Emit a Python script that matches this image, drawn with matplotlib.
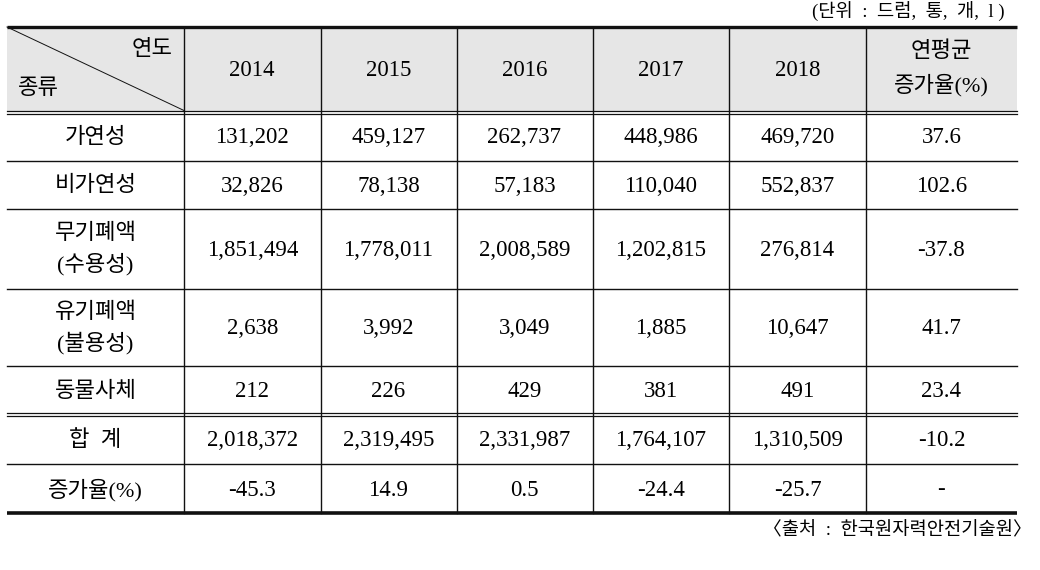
import matplotlib
matplotlib.use("Agg")
import matplotlib.pyplot as plt

plt.rcParams['font.family'] = ['Liberation Serif', 'Noto Sans CJK KR', 'DejaVu Sans']

years = ["2014", "2015", "2016", "2017", "2018"]
row_labels = ["가연성", "비가연성", "무기폐액\n(수용성)", "유기폐액\n(불용성)", "동물사체"]
combustible = [131202, 459127, 262737, 448986, 469720]
noncombustible = [32826, 78138, 57183, 110040, 552837]
inorganic_liquid = [1851494, 1778011, 2008589, 1202815, 276814]
organic_liquid = [2638, 3992, 3049, 1885, 10647]
animal = [212, 226, 429, 381, 491]
cagr = ["37.6", "102.6", "-37.8", "41.7", "23.4"]
totals = [2018372, 2319495, 2331987, 1764107, 1310509]
total_cagr = "-10.2"
growth = ["-45.3", "14.9", "0.5", "-24.4", "-25.7", "-"]

series = [combustible, noncombustible, inorganic_liquid, organic_liquid, animal]

W, H = 1040, 570
fig = plt.figure(figsize=(W / 100, H / 100), dpi=100)
ax = fig.add_axes([0, 0, 1, 1])
ax.set_xlim(0, W)
ax.set_ylim(H, 0)
ax.axis('off')

col_edges = [7, 184, 320.5, 456.5, 592.5, 729, 866, 1017]
row_edges = [27, 112, 160.5, 209, 288.5, 366, 414.5, 464, 513]
xl, xr = col_edges[0], col_edges[-1]
fs = 16.5   # numbers
fk = 16     # korean labels
lc = '#111111'

# header fill
ax.fill_between([xl, xr], row_edges[0], row_edges[1], color='#e6e6e6', lw=0, zorder=0)

# horizontal lines
ax.plot([xl, xr], [row_edges[0], row_edges[0]], color=lc, lw=2.4, solid_capstyle='butt')
ax.plot([xl, xr], [row_edges[-1], row_edges[-1]], color=lc, lw=2.6, solid_capstyle='butt')
for y in (row_edges[1], row_edges[6]):
    ax.plot([xl, xr], [y - 1.5, y - 1.5], color=lc, lw=0.9)
    ax.plot([xl, xr], [y + 1.5, y + 1.5], color=lc, lw=0.9)
for y in [row_edges[2], row_edges[3], row_edges[4], row_edges[5], row_edges[7]]:
    ax.plot([xl, xr], [y, y], color=lc, lw=1.0)
for x in col_edges[1:-1]:
    ax.plot([x, x], [row_edges[0], row_edges[-1]], color=lc, lw=1.0)
ax.plot([xl, col_edges[1]], [row_edges[0], row_edges[1] - 1.5], color=lc, lw=0.7)


def ktext(x, y, s, ha='center', size=fk):
    ax.text(x, y, s, ha=ha, va='center', fontsize=size)


# header texts
ktext(173, 50, "연도", ha='right')
ktext(18, 89, "종류", ha='left')
hy = (row_edges[0] + row_edges[1]) / 2 + 1
for i, yr in enumerate(years):
    cx = (col_edges[i + 1] + col_edges[i + 2]) / 2
    ax.text(cx, hy, yr, ha='center', va='center', fontsize=fs)
cx_last = (col_edges[6] + col_edges[7]) / 2
ktext(cx_last, 52, "연평균")
ktext(cx_last, 85, "증가율(%)")

cx0 = (col_edges[0] + col_edges[1]) / 2
for r, (lab, vals) in enumerate(zip(row_labels, series)):
    y0, y1 = row_edges[r + 1], row_edges[r + 2]
    cy = (y0 + y1) / 2 + 1.5
    if "\n" in lab:
        a, b = lab.split("\n")
        ktext(cx0, cy - 16, a)
        ktext(cx0, cy + 14, b)
    else:
        ktext(cx0, cy, lab)
    for i, v in enumerate(vals):
        cx = (col_edges[i + 1] + col_edges[i + 2]) / 2
        ax.text(cx, cy, f"{v:,}", ha='center', va='center', fontsize=fs)
    ax.text(cx_last, cy, cagr[r], ha='center', va='center', fontsize=fs)

cy = (row_edges[6] + row_edges[7]) / 2 + 1.5
ktext(cx0, cy, "합  계")
for i, v in enumerate(totals):
    cx = (col_edges[i + 1] + col_edges[i + 2]) / 2
    ax.text(cx, cy, f"{v:,}", ha='center', va='center', fontsize=fs)
ax.text(cx_last, cy, total_cagr, ha='center', va='center', fontsize=fs)

cy = (row_edges[7] + row_edges[8]) / 2 + 1.5
ktext(cx0, cy, "증가율(%)")
for i, g in enumerate(growth):
    cx = (col_edges[i + 1] + col_edges[i + 2]) / 2
    ax.text(cx, cy, g, ha='center', va='center', fontsize=fs)

ax.text(1005, 12, "(단위  :  드럼,  통,  개,  l )", ha='right', va='center', fontsize=13.5)
ax.text(1032, 531, "〈출처  :  한국원자력안전기술원〉", ha='right', va='center', fontsize=13.5)

fig.savefig("out.png", dpi=100, facecolor='white')
